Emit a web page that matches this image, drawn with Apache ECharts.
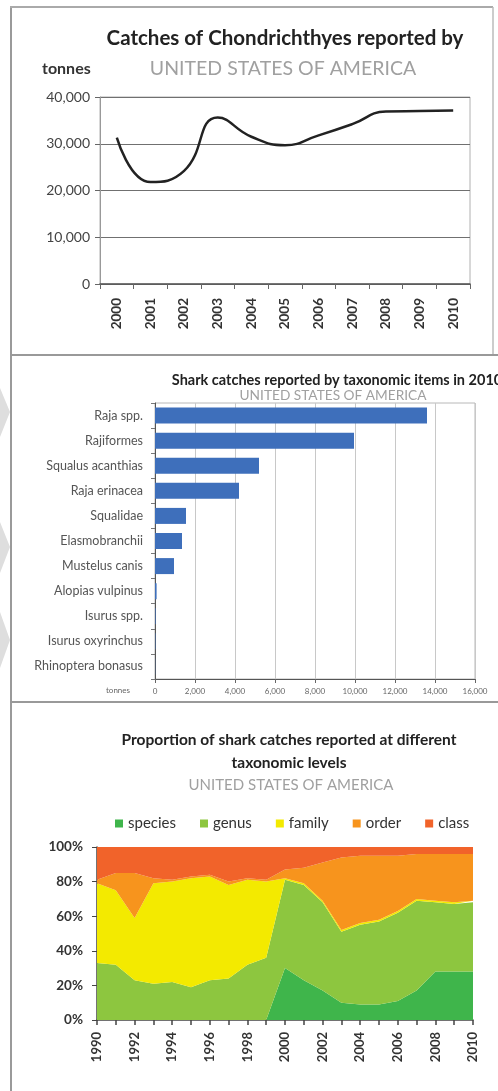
<!DOCTYPE html>
<html>
<head>
<meta charset="utf-8">
<script src="https://cdn.jsdelivr.net/npm/echarts@6/dist/echarts.min.js"></script>
<style>
html,body{margin:0;padding:0;background:#fff;}
#c{width:498px;height:1091px;}
</style>
</head>
<body>
<div id="c"></div>
<script>
// ---- Panel 1: catches (tonnes) ----
const catchYears = ['2000','2001','2002','2003','2004','2005','2006','2007','2008','2009','2010'];
const catchTonnes = [31300, 21800, 24200, 35600, 31500, 29700, 31800, 34200, 36900, 37000, 37100];

// ---- Panel 2: catches by taxonomic item, 2010 ----
const taxItems = ['Raja spp.','Rajiformes','Squalus acanthias','Raja erinacea','Squalidae','Elasmobranchii','Mustelus canis','Alopias vulpinus','Isurus spp.','Isurus oxyrinchus','Rhinoptera bonasus'];
const taxTonnes = [13600, 9950, 5200, 4200, 1550, 1350, 950, 80, 30, 20, 10];

// ---- Panel 3: proportion by taxonomic level (%) ----
const propYears = ['1990','1991','1992','1993','1994','1995','1996','1997','1998','1999','2000','2001','2002','2003','2004','2005','2006','2007','2008','2009','2010'];
const levelNames = ['species','genus','family','order','class'];
const pctSpecies = [0,0,0,0,0,0,0,0,0,0,30,23,17,10,9,9,11,17,28,28,28];
const pctGenus   = [33,32,23,21,22,19,23,24,32,36,51,55,51,41,46,48,51,52,40,39,40];
const pctFamily  = [46,43,36,58,58,63,60,54,49,44,1,1,1,1,1,1,1,1,1,1,1];
const pctOrder   = [2,10,26,3,1,1,1,2,1,1,5,9,22,42,39,37,32,26,27,28,27];
const pctClass   = [19,15,15,18,19,17,16,20,18,19,13,12,9,6,5,5,5,4,4,4,4];
const levelColors = ['#3fb54b','#8dc63f','#f3ea00','#f7941d','#f1632a'];

const FONT = 'Lato, "Liberation Sans", sans-serif';
function commas(v){ return String(v).replace(/\B(?=(\d{3})+(?!\d))/g, ','); }

const chart = echarts.init(document.getElementById('c'), null, {renderer:'canvas'});

const pctData = [pctSpecies, pctGenus, pctFamily, pctOrder, pctClass];
const areaSeries = levelNames.map((n,i)=>({
  name:n, type:'line', stack:'p', xAxisIndex:2, yAxisIndex:2,
  data:pctData[i], symbol:'none', showSymbol:false,
  lineStyle:{width:0}, areaStyle:{color:levelColors[i], opacity:1},
  itemStyle:{color:levelColors[i]}, z:2
}));

const option = {
  animation:false,
  backgroundColor:'#fff',
  textStyle:{fontFamily:FONT},
  title:[
    {text:'Catches of Chondrichthyes reported by', left:280, top:23, textAlign:'center',
     textStyle:{fontFamily:FONT, fontSize:20.5, fontWeight:'bold', color:'#222'}},
    {text:'UNITED STATES OF AMERICA', left:278, top:54, textAlign:'center',
     textStyle:{fontFamily:FONT, fontSize:19.5, fontWeight:'normal', color:'#a0a0a0'}},
    {text:'Shark catches reported by taxonomic items in 2010', left:332, top:368, textAlign:'center',
     textStyle:{fontFamily:FONT, fontSize:14.5, fontWeight:'bold', color:'#222'}},
    {text:'UNITED STATES OF AMERICA', left:328, top:384, textAlign:'center',
     textStyle:{fontFamily:FONT, fontSize:13.7, fontWeight:'normal', color:'#a0a0a0'}},
    {text:'Proportion of shark catches reported at different\ntaxonomic levels', left:284, top:723, textAlign:'center',
     textStyle:{fontFamily:FONT, fontSize:15.5, fontWeight:'bold', color:'#222', lineHeight:23}},
    {text:'UNITED STATES OF AMERICA', left:286, top:773, textAlign:'center',
     textStyle:{fontFamily:FONT, fontSize:15, fontWeight:'normal', color:'#a0a0a0'}}
  ],
  legend:{
    data:levelNames, left:110, top:811, itemWidth:8, itemHeight:8, itemGap:24, icon:'rect',
    textStyle:{fontFamily:FONT, fontSize:15, color:'#333'}
  },
  grid:[
    {left:100, top:97, width:370, height:187, show:true, borderColor:'#b0b0b0', borderWidth:1},
    {left:155, top:403, width:320, height:276, show:true, borderColor:'#b8b8b8', borderWidth:1},
    {left:97, top:847, width:376, height:173, show:false}
  ],
  xAxis:[
    {gridIndex:0, type:'category', data:catchYears, boundaryGap:true,
     axisLine:{lineStyle:{color:'#555', width:1.5}}, axisTick:{show:true, length:5, lineStyle:{color:'#666'}},
     axisLabel:{rotate:90, margin:14, fontSize:13.5, fontWeight:'bold', color:'#333', fontFamily:FONT}},
    {gridIndex:1, type:'value', min:0, max:16000, interval:2000,
     axisLine:{show:true, lineStyle:{color:'#555'}}, axisTick:{show:true, length:4, lineStyle:{color:'#666'}},
     splitLine:{show:true, lineStyle:{color:'#c8c8c8'}},
     axisLabel:{fontSize:8, color:'#666', margin:8, fontFamily:FONT, formatter:v=>commas(v)}},
    {gridIndex:2, type:'category', data:propYears, boundaryGap:false,
     axisLine:{lineStyle:{color:'#444', width:1.5}}, axisTick:{show:true, length:5, interval:0, lineStyle:{color:'#444', width:1.5}},
     axisLabel:{rotate:90, interval:1, margin:12, fontSize:13, fontWeight:'bold', color:'#333', fontFamily:FONT}}
  ],
  yAxis:[
    {gridIndex:0, type:'value', min:0, max:40000, interval:10000,
     axisLine:{show:true, lineStyle:{color:'#999'}}, axisTick:{show:true, length:5, lineStyle:{color:'#666'}},
     splitLine:{show:true, lineStyle:{color:'#707070', width:1.2}},
     axisLabel:{fontSize:14, color:'#444', margin:10, fontFamily:FONT, formatter:v=>commas(v)}},
    {gridIndex:1, type:'category', data:taxItems, inverse:true,
     axisLine:{show:true, lineStyle:{color:'#555'}}, axisTick:{show:true, length:4, lineStyle:{color:'#777'}},
     axisLabel:{fontSize:12.5, color:'#555', margin:12, fontFamily:FONT}},
    {gridIndex:2, type:'value', min:0, max:100, interval:20,
     axisLine:{show:true, lineStyle:{color:'#444', width:1.5}}, axisTick:{show:true, length:5, lineStyle:{color:'#444'}},
     splitLine:{show:false},
     axisLabel:{fontSize:13.5, fontWeight:'bold', color:'#333', margin:14, fontFamily:FONT, formatter:'{value}%'}}
  ],
  series:[
    {type:'line', xAxisIndex:0, yAxisIndex:0, data:catchTonnes, smooth:0.5,
     symbol:'none', lineStyle:{color:'#222', width:2.5}, z:3},
    {type:'bar', xAxisIndex:1, yAxisIndex:1, data:taxTonnes, barWidth:16,
     itemStyle:{color:'#3e6fbb'}}
  ].concat(areaSeries),
  graphic:[
    {type:'polygon', shape:{points:[[0,388],[10,412],[0,437]]}, style:{fill:'#dedede'}, z:1},
    {type:'polygon', shape:{points:[[0,522],[10,547],[0,573]]}, style:{fill:'#dedede'}, z:1},
    {type:'polygon', shape:{points:[[0,612],[10,640],[0,668]]}, style:{fill:'#dedede'}, z:1},
    {type:'line', shape:{x1:11, y1:7, x2:11, y2:1091}, style:{stroke:'#9a9a9a', lineWidth:2}, z:10},
    {type:'line', shape:{x1:10, y1:7, x2:493, y2:7}, style:{stroke:'#aaaaaa', lineWidth:2}, z:10},
    {type:'line', shape:{x1:493, y1:7, x2:493, y2:354}, style:{stroke:'#bbbbbb', lineWidth:1.5}, z:10},
    {type:'line', shape:{x1:10, y1:355, x2:498, y2:355}, style:{stroke:'#999999', lineWidth:2}, z:10},
    {type:'line', shape:{x1:10, y1:702, x2:498, y2:702}, style:{stroke:'#999999', lineWidth:2}, z:10},
    {type:'text', left:42, top:61, style:{text:'tonnes', fontFamily:FONT, fontSize:16, fontWeight:'bold', fill:'#333'}},
    {type:'text', left:106, top:686, style:{text:'tonnes', fontFamily:FONT, fontSize:8, fill:'#666'}}
  ]
};
chart.setOption(option);
</script>
</body>
</html>
